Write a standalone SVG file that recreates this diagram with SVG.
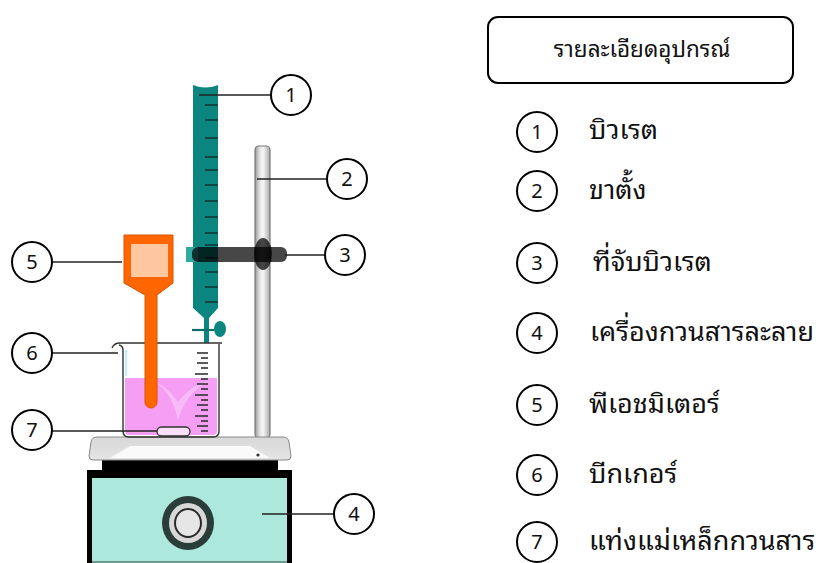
<svg xmlns="http://www.w3.org/2000/svg" width="819" height="563" viewBox="0 0 819 563">
  <defs>
    <linearGradient id="rodGrad" x1="0" y1="0" x2="1" y2="0">
      <stop offset="0" stop-color="#9a9a9a"/>
      <stop offset="0.35" stop-color="#e8e8e8"/>
      <stop offset="0.55" stop-color="#f6f6f6"/>
      <stop offset="1" stop-color="#a8a8a8"/>
    </linearGradient>
    <linearGradient id="plateGrad" x1="0" y1="0" x2="0" y2="1">
      <stop offset="0" stop-color="#d8d8d8"/>
      <stop offset="1" stop-color="#e4e4e4"/>
    </linearGradient>
  </defs>
  <style>
    .lead { stroke: #222; stroke-width: 1.3; fill: none; }
    .tag circle { fill: #fff; stroke: #000; stroke-width: 2; }
    .tag text { font-family: "Noto Sans", "DejaVu Sans", sans-serif; font-size: 20px; fill: #111; text-anchor: middle; }
    .item { font-family: "Noto Sans Thai Looped", "Leelawadee UI", Tahoma, "Noto Sans Thai", "Noto Sans", sans-serif; font-size: 27px; fill: #111; }
    .title { font-size: 22.5px; text-anchor: middle; }
    .tick { stroke: #0d2b2b; stroke-width: 1.4; }
    .grad { stroke: #333; stroke-width: 1.6; }
  </style>

  <rect width="819" height="563" fill="#fff"/>

  <!-- ring stand rod -->
  <g id="stand">
    <rect x="255" y="146" width="15" height="292" rx="4" fill="url(#rodGrad)" stroke="#7a7a7a" stroke-width="1.2"/>
  </g>

  <!-- burette -->
  <g id="burette">
    <path d="M193,85 Q205.5,90 218,85 L218,308 L209,318 L209,343 L204,343 L204,318 L193,308 Z" fill="#0a8580"/>
    <line x1="192" y1="330" x2="214" y2="330" stroke="#0a6f6b" stroke-width="2.2"/>
    <ellipse cx="220" cy="329" rx="6" ry="8" fill="#0a8580"/>
    <g class="tick">
      <line x1="205" y1="105" x2="218" y2="105"/>
      <line x1="205" y1="120" x2="218" y2="120"/>
      <line x1="205" y1="138" x2="218" y2="138"/>
      <line x1="205" y1="157" x2="218" y2="157"/>
      <line x1="205" y1="170" x2="218" y2="170"/>
      <line x1="205" y1="185" x2="218" y2="185"/>
      <line x1="205" y1="201" x2="218" y2="201"/>
      <line x1="205" y1="217" x2="218" y2="217"/>
      <line x1="205" y1="233" x2="218" y2="233"/>
      <line x1="205" y1="245" x2="218" y2="245"/>
      <line x1="205" y1="258" x2="218" y2="258"/>
      <line x1="205" y1="272" x2="218" y2="272"/>
      <line x1="205" y1="287" x2="218" y2="287"/>
      <line x1="205" y1="302" x2="218" y2="302"/>
    </g>
  </g>

  <!-- burette clamp -->
  <g id="clamp">
    <rect x="186" y="247" width="12" height="15" fill="#2fa9a2"/>
    <rect x="192" y="247" width="95" height="15" rx="6" fill="#000" fill-opacity="0.72"/>
    <ellipse cx="263" cy="254" rx="9" ry="16" fill="#000" fill-opacity="0.72"/>
  </g>

  <!-- magnetic stirrer -->
  <g id="stirrer">
    <rect x="87" y="470" width="205" height="93" fill="#000"/>
    <rect x="92" y="478" width="195" height="83" fill="#ade8dc"/>
    <rect x="92" y="561" width="195" height="2" fill="#6f9a92"/>
    <rect x="102" y="458" width="176" height="14" fill="#000"/>
    <path d="M97,437 L283,437 Q288,437 289,442 L291,456 Q291,460 287,460 L93,460 Q89,460 89,456 L91,442 Q92,437 97,437 Z" fill="url(#plateGrad)" stroke="#888" stroke-width="1"/>
    <path d="M130,446 L250,446 L270,458 L110,458 Z" fill="#fafafa"/>
    <circle cx="258" cy="455" r="1.6" fill="#333"/>
    <ellipse cx="188" cy="523" rx="26" ry="27" fill="#2a3d38"/>
    <ellipse cx="188" cy="523" rx="19" ry="20" fill="#d8d8d8"/>
    <ellipse cx="188" cy="523" rx="13" ry="14" fill="#e6e6e6" stroke="#2a2a2a" stroke-width="2"/>
  </g>

  <!-- beaker with solution -->
  <g id="beaker">
    <path d="M125,378 L217,378 L217,431 Q217,435 213,435 L129,435 Q125,435 125,431 Z" fill="#f59ef4"/>
    <path d="M150,381 Q170,386 178,420 Q186,392 210,381 Q192,384 178,402 Q166,384 150,381 Z" fill="#fbc6fa" fill-opacity="0.7"/>
    <path d="M112,348 Q114,343 120,343 L222,343" fill="none" stroke="#333" stroke-width="1.3"/>
    <path d="M119,345 Q123,346 123,350 L123,431 Q123,437 129,437 L213,437 Q219,437 219,431 L219,344" fill="none" stroke="#333" stroke-width="1.4"/>
    <line x1="126" y1="350" x2="126" y2="376" stroke="#bfeffa" stroke-width="2"/>
    <g class="grad">
      <line x1="197" y1="353" x2="208" y2="353"/>
      <line x1="201" y1="358" x2="208" y2="358"/>
      <line x1="197" y1="363" x2="208" y2="363"/>
      <line x1="201" y1="368" x2="208" y2="368"/>
      <line x1="195" y1="374" x2="208" y2="374"/>
      <line x1="201" y1="379" x2="208" y2="379"/>
      <line x1="197" y1="384" x2="208" y2="384"/>
      <line x1="201" y1="389" x2="208" y2="389"/>
      <line x1="195" y1="395" x2="208" y2="395"/>
      <line x1="201" y1="400" x2="208" y2="400"/>
      <line x1="197" y1="405" x2="208" y2="405"/>
      <line x1="201" y1="410" x2="208" y2="410"/>
      <line x1="195" y1="416" x2="208" y2="416"/>
      <line x1="201" y1="421" x2="208" y2="421"/>
      <line x1="197" y1="426" x2="208" y2="426"/>
      <line x1="201" y1="431" x2="208" y2="431"/>
    </g>
  </g>

  <!-- magnetic stir bar -->
  <g id="stirbar">
    <rect x="157" y="427" width="33" height="9" rx="4.5" fill="#fbe0fb" stroke="#333" stroke-width="1.3"/>
  </g>

  <!-- pH meter probe -->
  <g id="phmeter">
    <path d="M124,235 L173,235 L173,283 L157,295 L157,402 A6,6 0 0 1 145,402 L145,295 L124,283 Z" fill="#ff6600" stroke="#d65400" stroke-width="1"/>
    <rect x="131" y="244" width="37" height="33" fill="#ffc8a0"/>
  </g>

  <!-- leader lines -->
  <g id="connectors">
    <line class="lead" x1="199" y1="95" x2="270" y2="95"/>
    <line class="lead" x1="257" y1="179" x2="326" y2="179"/>
    <line class="lead" x1="285" y1="255" x2="325" y2="255"/>
    <line class="lead" x1="262" y1="514" x2="334" y2="514"/>
    <line class="lead" x1="52" y1="262" x2="122" y2="262"/>
    <line class="lead" x1="52" y1="353" x2="118" y2="353"/>
    <line class="lead" x1="52" y1="431" x2="157" y2="431"/>
  </g>

  <!-- numbered tags on the drawing -->
  <g id="tag1" class="tag"><circle cx="291" cy="95" r="20"/><text x="291" y="102">1</text></g>
  <g id="tag2" class="tag"><circle cx="347" cy="179" r="20"/><text x="347" y="186">2</text></g>
  <g id="tag3" class="tag"><circle cx="345" cy="255" r="20"/><text x="345" y="262">3</text></g>
  <g id="tag4" class="tag"><circle cx="354" cy="514" r="20"/><text x="354" y="521">4</text></g>
  <g id="tag5" class="tag"><circle cx="32" cy="262" r="20"/><text x="32" y="269">5</text></g>
  <g id="tag6" class="tag"><circle cx="32" cy="353" r="20"/><text x="32" y="360">6</text></g>
  <g id="tag7" class="tag"><circle cx="32" cy="430" r="20"/><text x="32" y="437">7</text></g>

  <!-- legend -->
  <g id="legend-title">
    <rect x="488" y="17" width="305" height="66" rx="10" fill="#fff" stroke="#000" stroke-width="2"/>
    <text class="item title" x="642" y="57">รายละเอียดอุปกรณ์</text>
  </g>
  <g id="legend1" class="tag"><circle cx="537" cy="132" r="20"/><text x="537" y="139">1</text></g>
  <text class="item" x="589" y="139">บิวเรต</text>
  <g id="legend2" class="tag"><circle cx="537" cy="191" r="20"/><text x="537" y="198">2</text></g>
  <text class="item" x="589" y="199">ขาตั้ง</text>
  <g id="legend3" class="tag"><circle cx="537" cy="263" r="20"/><text x="537" y="270">3</text></g>
  <text class="item" x="593" y="271">ที่จับบิวเรต</text>
  <g id="legend4" class="tag"><circle cx="537" cy="333" r="20"/><text x="537" y="340">4</text></g>
  <text class="item" x="590" y="341">เครื่องกวนสารละลาย</text>
  <g id="legend5" class="tag"><circle cx="537" cy="405" r="20"/><text x="537" y="412">5</text></g>
  <text class="item" x="589" y="413">พีเอชมิเตอร์</text>
  <g id="legend6" class="tag"><circle cx="537" cy="475" r="20"/><text x="537" y="482">6</text></g>
  <text class="item" x="589" y="483">บีกเกอร์</text>
  <g id="legend7" class="tag"><circle cx="537" cy="542" r="20"/><text x="537" y="549">7</text></g>
  <text class="item" x="589" y="550">แท่งแม่เหล็กกวนสาร</text>
</svg>
